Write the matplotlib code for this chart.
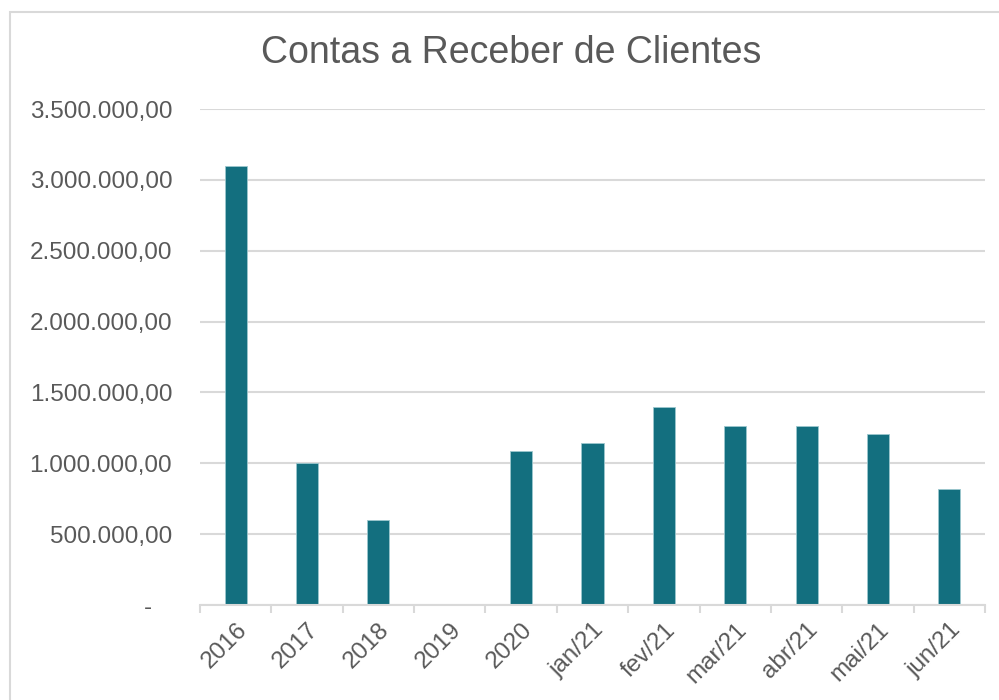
import numpy as np
import matplotlib.pyplot as plt
from matplotlib.patches import Rectangle
from matplotlib.ticker import FuncFormatter

plt.rcParams['font.family'] = ['Liberation Sans', 'DejaVu Sans']

categories = ['2016', '2017', '2018', '2019', '2020', 'jan/21', 'fev/21',
              'mar/21', 'abr/21', 'mai/21', 'jun/21']
values = [3098000, 1002000, 600000, 0, 1090000, 1142000, 1396000,
          1266000, 1266000, 1207000, 818000]

text_color = '#595959'
grid_color = '#D9D9D9'
bar_color = '#136F7F'


def br_format(v, pos):
    # Excel accounting style: 1.234.567,00 and "-" for zero
    if v == 0:
        return '-   '
    s = f'{v:,.2f}'
    return s.replace(',', 'X').replace('.', ',').replace('X', '.')


fig = plt.figure(figsize=(9.99, 7.0), dpi=100)
ax = fig.add_axes([200 / 999, 95 / 700, 785 / 999, 496 / 700])

# outer chart-area border
fig.patches.append(Rectangle((10 / 999, -0.05), 1.2, 1.05 - 12 / 700,
                             transform=fig.transFigure, fill=False,
                             edgecolor=grid_color, linewidth=1.5))

x = np.arange(len(categories))
ax.bar(x, values, width=0.31, color=bar_color, edgecolor='#9cc7ce',
       linewidth=0.6, zorder=3)

ax.set_xlim(-0.5, len(categories) - 0.5)
ax.set_ylim(0, 3500000)
ax.set_yticks(np.arange(0, 3500001, 500000))
ax.yaxis.set_major_formatter(FuncFormatter(br_format))
ax.grid(axis='y', color=grid_color, linewidth=1.5, zorder=0)

for s in ['top', 'right', 'left']:
    ax.spines[s].set_visible(False)
ax.spines['bottom'].set_color(grid_color)
ax.spines['bottom'].set_linewidth(1.5)
ax.spines['bottom'].set_zorder(4)

ax.set_xticks(x)
ax.set_xticklabels(categories, rotation=45, ha='right', rotation_mode='anchor')
ax.set_xticks(np.arange(-0.5, len(categories)), minor=True)
ax.tick_params(axis='x', which='major', length=0, pad=10,
               labelsize=17.5, labelcolor=text_color)
ax.tick_params(axis='x', which='minor', length=6, width=1.5, color=grid_color)
ax.tick_params(axis='y', length=0, pad=20, labelsize=17.5, labelcolor=text_color)

fig.text(511 / 999, 647 / 700, 'Contas a Receber de Clientes', ha='center',
         va='center', fontsize=27, color=text_color)

fig.savefig('out.png', dpi=100, facecolor='white')
